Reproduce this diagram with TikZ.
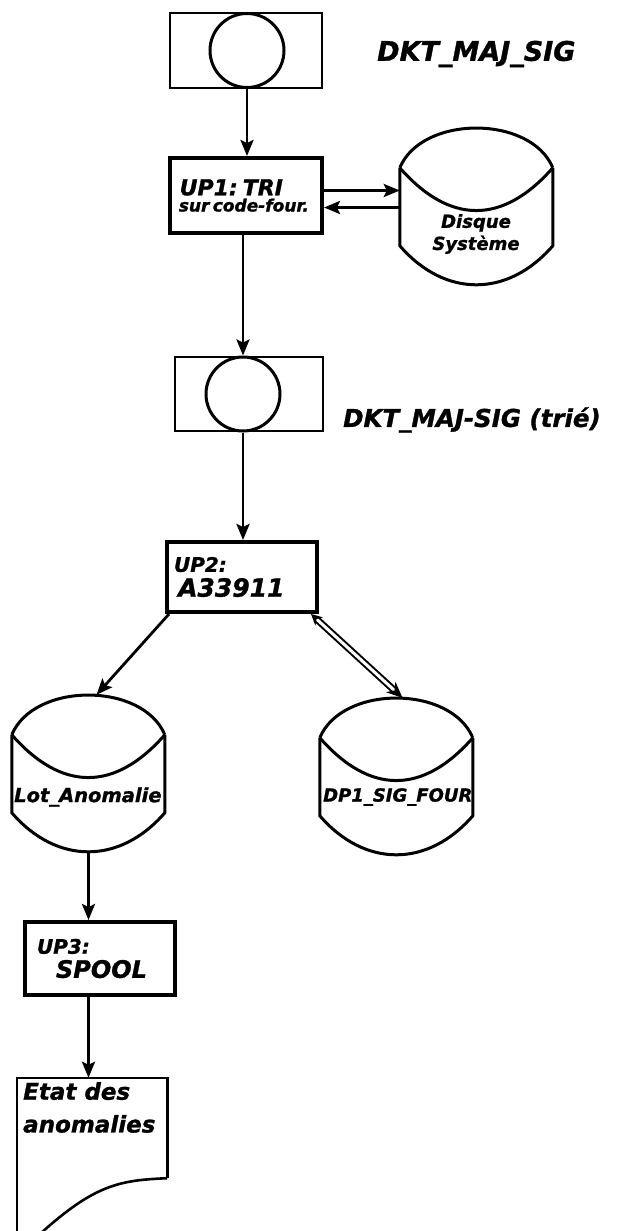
\documentclass[tikz,border=0pt]{standalone}
\usepackage{fontspec}
\setmainfont{DejaVu Sans}
\usetikzlibrary{arrows.meta,calc}
\newcommand{\diskoutline}[1]{%
  \begin{scope}[shift={(#1.north west)}, line width=3pt]
    \draw (0,40) .. controls (22,-13) and (131,-13) .. (153,40);
    \draw (0,40) .. controls (50,97) and (103,97) .. (153,40);
    \draw (0,40) -- (0,118) .. controls (45,170) and (108,170) .. (153,118) -- (153,40);
  \end{scope}}
\newcommand{\fs}[1]{\fontsize{#1}{#1}\selectfont}
\begin{document}
\begin{tikzpicture}[x=1pt,y=-1pt,
  hand/.style={font=\bfseries\itshape\addfontfeature{FakeBold=1.2}},
  proc/.style={draw, line width=4pt, inner xsep=10pt, align=left, hand},
  tape/.style={draw, line width=1.8pt, inner sep=0pt},
  reel/.style={draw, circle, line width=3pt, inner sep=0pt, minimum size=74pt},
  diskbox/.style={inner sep=0pt, minimum width=153pt, minimum height=157pt},
  conn/.style={line width=2.8pt, -{Stealth[length=16pt,width=13pt,inset=3pt]}},
  lbl/.style={hand, anchor=west, inner sep=0pt}]
\fill[white] (0,0) rectangle (630,1231);
\useasboundingbox (0,0) rectangle (630,1231);

% top tape
\node[tape, minimum width=152pt, minimum height=75pt] (tape1) at (246,50.5) {};
\node[reel] (c1) at (247,50.5) {};
\node[lbl] (l1) at (377,54) {\fs{27}DKT\_MAJ\_SIG};

% UP1
\node[proc, minimum height=75pt, text width=140pt, inner xsep=6pt] (up1) at (246,195.5)
  {{\fs{22}\,UP1: TRI}\\[2pt]{\fs{17}\,sur code-four.}\\[1pt]};

% Disque systeme
\node[diskbox] (disk1) at (476.5,206.5) {};
\diskoutline{disk1}
\node[hand, align=center, inner sep=0pt] (t1) at (476,234)
  {\fs{18}Disque\\[3pt]\fs{18}Système};

% tape 2
\node[tape, minimum width=148pt, minimum height=74pt] (tape2) at (249,394) {};
\node[reel] (c2) at (243,394) {};
\node[lbl] (l2) at (343,420) {\fs{24.5}DKT\_MAJ-SIG (trié)};

% UP2
\node[proc, minimum height=70pt, text width=136pt, inner xsep=7pt] (up2) at (242,577)
  {{\fs{20}UP2:}\\[5pt]{\fs{25}\,A33911}};

% disks
\node[diskbox] (lot) at (88.5,773.5) {};
\diskoutline{lot}
\node[hand, inner sep=0pt, anchor=west] (t2) at (14,797) {\fs{19.5}Lot\_Anomalie};
\node[diskbox] (dp1) at (396.5,776.5) {};
\diskoutline{dp1}
\node[hand, inner sep=0pt, anchor=west] (t3) at (323,797) {\fs{18}DP1\_SIG\_FOUR};

% UP3
\node[proc, minimum height=73pt, text width=126pt, inner xsep=12pt] (up3) at (100,958.5)
  {{\fs{20}UP3:}\\[5pt]{\fs{24}\hspace*{19pt}SPOOL}};

% document
\node[inner sep=0pt, minimum width=150pt, minimum height=100pt] (doc) at (92,1128) {};
\draw[line width=2.6pt] (doc.south east) -- (doc.north east) -- (doc.north west) -- ($(doc.south west)+(0,60)$);
\draw[line width=2.6pt] (doc.south east) .. controls +(-47,2) and +(55,-50) .. ($(doc.south west)+(23,56)$);
\node[hand, align=left, inner sep=0pt, anchor=north west] (t4) at (23,1082)
  {\fs{23}Etat des\\[14pt]\fs{23}anomalies};

% connectors
\draw[conn] (c1.south) -- (c1.south |- up1.north);
\draw[conn] ([yshift=5pt]up1.east) -- ([yshift=5pt]up1.east -| disk1.west);
\draw[conn] ([yshift=-12pt]up1.east -| disk1.west) -- ([yshift=-12pt]up1.east);
\draw[conn] (up1.south -| c2.north) -- (c2.north);
\draw[conn] (c2.south) -- (c2.south |- up2.north);
\draw[conn] ([xshift=4pt]up2.south west) -- ([xshift=8pt]lot.north);
\draw[line width=2pt, double, double distance=3pt, {Stealth[length=11pt,width=11pt]}-{Stealth[length=16pt,width=14pt]}]
  ([xshift=-8pt]up2.south east) -- ([xshift=6pt]dp1.north);
\draw[conn] (lot.south) -- (lot.south |- up3.north);
\coordinate (a3) at (up3.south -| lot.south);
\draw[conn] (a3) -- (a3 |- doc.north);
\end{tikzpicture}
\end{document}
